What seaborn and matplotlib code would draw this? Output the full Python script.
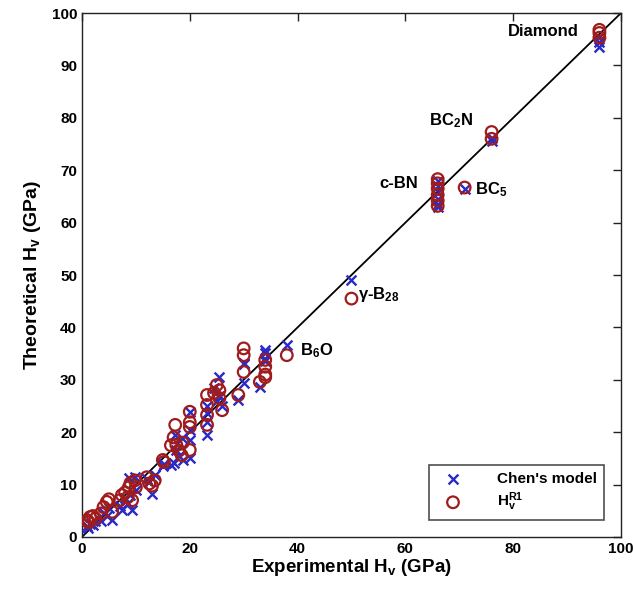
import pandas as pd
import seaborn as sns
import matplotlib.pyplot as plt
import numpy as np

# experimental hardness and the two model predictions (GPa)
exp_hv = [1.0, 1.5, 2.0, 2.5, 1.2, 3.5, 4.0, 4.6, 5.0, 5.6,
          7.0, 7.4, 8.0, 8.5, 8.7, 9.0, 9.3, 9.8, 10.0, 12.0,
          12.5, 13.0, 13.5, 15.0, 15.2, 16.5, 17.0, 17.3, 17.5, 18.0,
          18.5, 18.7, 20.0, 20.0, 20.0, 20.0, 23.2, 23.2, 23.2, 23.2,
          24.5, 25.0, 25.5, 26.0, 25.5, 29.0, 30.0, 30.0, 30.0, 33.0,
          34.0, 34.0, 34.0, 34.0, 38.0, 50.0, 66.0, 66.0, 66.0, 66.0,
          66.0, 66.0, 71.0, 76.0, 76.0, 96.0, 96.0, 96.0]
chen_hv = [2.0, 2.5, 2.2, 3.0, 1.8, 3.0, 4.5, 4.0, 5.5, 3.2,
           6.0, 5.2, 7.5, 6.5, 11.3, 8.0, 5.2, 11.5, 9.0, 11.0,
           10.5, 8.2, 11.8, 13.5, 14.0, 13.8, 14.1, 19.5, 16.6, 15.5,
           18.8, 14.7, 23.9, 20.4, 18.5, 15.1, 23.7, 19.5, 22.0, 25.0,
           28.5, 26.0, 30.5, 25.0, 27.0, 26.1, 33.2, 29.4, 33.0, 28.6,
           35.7, 35.1, 33.5, 34.0, 36.6, 49.0, 68.0, 67.0, 65.8, 64.5,
           63.5, 63.0, 66.5, 75.5, 76.2, 93.5, 94.5, 95.5]
r1_hv = [3.2, 3.8, 4.0, 3.5, 2.8, 4.5, 5.7, 6.7, 7.2, 4.8,
         7.0, 8.0, 8.5, 7.6, 9.5, 10.3, 7.0, 10.8, 9.5, 11.4,
         10.2, 9.8, 10.8, 14.7, 14.3, 17.5, 19.0, 21.4, 17.6, 16.5,
         15.6, 18.0, 23.9, 21.9, 21.0, 16.6, 27.1, 25.2, 23.3, 21.4,
         27.5, 29.0, 28.0, 24.2, 26.5, 27.1, 36.0, 34.7, 31.5, 29.6,
         33.8, 32.5, 31.0, 30.5, 34.7, 45.5, 68.3, 67.5, 66.5, 65.3,
         64.2, 63.2, 66.7, 77.3, 76.0, 96.8, 96.2, 95.3]

df = pd.DataFrame({'exp': exp_hv, 'chen': chen_hv, 'r1': r1_hv})

sns.set_style('white')
plt.rcParams['font.family'] = ['Liberation Sans', 'DejaVu Sans']
plt.rcParams['font.weight'] = 'bold'
plt.rcParams['text.color'] = 'black'
plt.rcParams['axes.labelcolor'] = 'black'
plt.rcParams['xtick.color'] = 'black'
plt.rcParams['ytick.color'] = 'black'
plt.rcParams['mathtext.fontset'] = 'custom'
plt.rcParams['mathtext.rm'] = 'Liberation Sans:bold'
plt.rcParams['mathtext.bf'] = 'Liberation Sans:bold'
plt.rcParams['mathtext.it'] = 'Liberation Sans:bold'
plt.rcParams['mathtext.default'] = 'bf'

fig = plt.figure(figsize=(6.33, 5.94), dpi=100)
ax = fig.add_axes([0.1295, 0.096, 0.8515, 0.882])

# y = x reference line
sns.lineplot(x=[0, 100], y=[0, 100], color='black', linewidth=1.3, ax=ax)

sns.scatterplot(data=df, x='exp', y='chen', marker='x', s=50, color='#2a2ac8',
                linewidth=1.7, label="Chen's model", ax=ax, zorder=3)
sns.scatterplot(data=df, x='exp', y='r1', marker='o', s=70, facecolor='none',
                edgecolor='#a01c1c', linewidth=1.6, label=r'H$_v^{R1}$', ax=ax, zorder=4)

ax.set_xlim(0, 100)
ax.set_ylim(0, 100)
ax.set_xticks(np.arange(0, 101, 20))
ax.set_yticks(np.arange(0, 101, 10))
ax.tick_params(direction='in', top=True, right=True, length=6, width=1,
               labelsize=11, color='#222222')
for lab in ax.get_xticklabels() + ax.get_yticklabels():
    lab.set_fontweight('bold')
for sp in ax.spines.values():
    sp.set_color('#222222')
    sp.set_linewidth(1.0)

ax.set_xlabel(r'Experimental H$_v$ (GPa)', fontsize=13.5, fontweight='bold', labelpad=1)
ax.set_ylabel(r'Theoretical H$_v$ (GPa)', fontsize=14, fontweight='bold', labelpad=6)

# material labels
lbl = dict(fontsize=12, fontweight='bold')
ax.text(92.2, 96.4, 'Diamond', ha='right', va='center', **lbl)
ax.text(64.3, 79.5, r'BC$_2$N', ha='left', va='center', **lbl)
ax.text(62.3, 67.5, 'c-BN', ha='right', va='center', **lbl)
ax.text(73.0, 66.3, r'BC$_5$', ha='left', va='center', **lbl)
ax.text(51.2, 46.3, r'$\gamma$-B$_{28}$', ha='left', va='center', **lbl)
ax.text(40.4, 35.6, r'B$_6$O', ha='left', va='center', **lbl)

leg = ax.legend(loc='lower right', fontsize=11, frameon=True, fancybox=False,
                edgecolor='#222222', borderaxespad=1.1, handletextpad=1.8,
                handlelength=2.2, borderpad=0.45, labelspacing=0.3)
leg.get_frame().set_linewidth(1.2)
for t in leg.get_texts():
    t.set_fontweight('bold')

fig.savefig('out.png', dpi=100)
